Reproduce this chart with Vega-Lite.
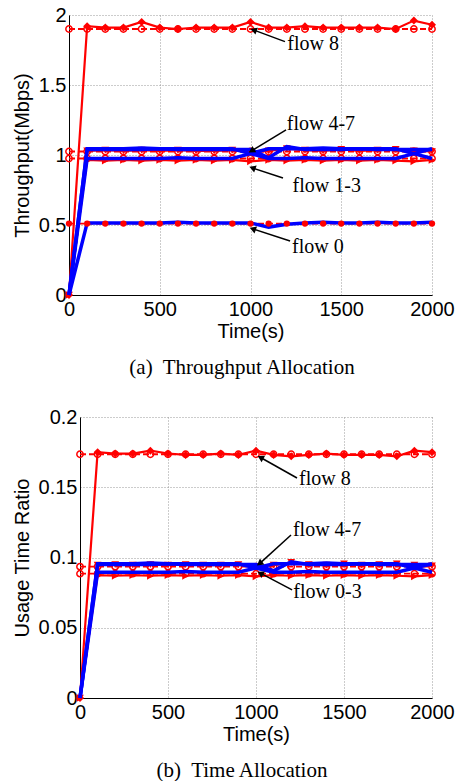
{
"$schema": "https://vega.github.io/schema/vega-lite/v6.json",
"padding": {"left": 12, "top": 5, "right": 0, "bottom": 0},
"spacing": 29,
"config": {
  "view": {"stroke": null},
  "font": "Liberation Sans",
  "axis": {"labelFont": "Liberation Sans", "titleFont": "Liberation Sans", "labelFontSize": 20, "titleFontSize": 20, "titleFontWeight": "normal", "labelColor": "#000", "titleColor": "#000", "domainColor": "#000", "domainWidth": 1, "ticks": false, "tickSize": 0, "gridColor": "#999", "gridDash": [1, 2], "gridOpacity": 1, "gridWidth": 1, "labelFlush": false, "labelOverlap": false},
  "axisX": {"labelPadding": 4, "titlePadding": 2},
  "axisY": {"labelPadding": 3, "titlePadding": 6},
  "title": {"orient": "bottom", "offset": 16, "font": "Liberation Serif", "fontSize": 21, "fontWeight": "normal", "color": "#000", "anchor": "middle", "frame": "group"}
},
"datasets": {
"a": [
{"s":"S8","t":0,"v":0},{"s":"S8","t":100,"v":1.92},{"s":"S8","t":200,"v":1.91},{"s":"S8","t":300,"v":1.91},{"s":"S8","t":400,"v":1.95},{"s":"S8","t":500,"v":1.91},{"s":"S8","t":600,"v":1.9},{"s":"S8","t":700,"v":1.91},{"s":"S8","t":800,"v":1.91},{"s":"S8","t":900,"v":1.91},{"s":"S8","t":1000,"v":1.95},{"s":"S8","t":1100,"v":1.91},{"s":"S8","t":1200,"v":1.91},{"s":"S8","t":1300,"v":1.92},{"s":"S8","t":1400,"v":1.91},{"s":"S8","t":1500,"v":1.91},{"s":"S8","t":1600,"v":1.91},{"s":"S8","t":1700,"v":1.91},{"s":"S8","t":1800,"v":1.9},{"s":"S8","t":1900,"v":1.96},{"s":"S8","t":2000,"v":1.93},
{"s":"T8","t":0,"v":1.9},{"s":"T8","t":100,"v":1.9},{"s":"T8","t":200,"v":1.9},{"s":"T8","t":300,"v":1.9},{"s":"T8","t":400,"v":1.9},{"s":"T8","t":500,"v":1.9},{"s":"T8","t":600,"v":1.9},{"s":"T8","t":700,"v":1.9},{"s":"T8","t":800,"v":1.9},{"s":"T8","t":900,"v":1.9},{"s":"T8","t":1000,"v":1.9},{"s":"T8","t":1100,"v":1.9},{"s":"T8","t":1200,"v":1.9},{"s":"T8","t":1300,"v":1.9},{"s":"T8","t":1400,"v":1.9},{"s":"T8","t":1500,"v":1.9},{"s":"T8","t":1600,"v":1.9},{"s":"T8","t":1700,"v":1.9},{"s":"T8","t":1800,"v":1.9},{"s":"T8","t":1900,"v":1.9},{"s":"T8","t":2000,"v":1.9},
{"s":"R47","t":0,"v":0},{"s":"R47","t":100,"v":1.03},{"s":"R47","t":200,"v":1.035},{"s":"R47","t":300,"v":1.03},{"s":"R47","t":400,"v":1.035},{"s":"R47","t":500,"v":1.03},{"s":"R47","t":600,"v":1.035},{"s":"R47","t":700,"v":1.03},{"s":"R47","t":800,"v":1.03},{"s":"R47","t":900,"v":1.035},{"s":"R47","t":1000,"v":1.02},{"s":"R47","t":1100,"v":1.03},{"s":"R47","t":1200,"v":1.045},{"s":"R47","t":1300,"v":1.035},{"s":"R47","t":1400,"v":1.03},{"s":"R47","t":1500,"v":1.04},{"s":"R47","t":1600,"v":1.03},{"s":"R47","t":1700,"v":1.035},{"s":"R47","t":1800,"v":1.04},{"s":"R47","t":1900,"v":1.03},{"s":"R47","t":2000,"v":1.025},
{"s":"R13","t":0,"v":0},{"s":"R13","t":100,"v":0.965},{"s":"R13","t":200,"v":0.96},{"s":"R13","t":300,"v":0.965},{"s":"R13","t":400,"v":0.96},{"s":"R13","t":500,"v":0.965},{"s":"R13","t":600,"v":0.96},{"s":"R13","t":700,"v":0.965},{"s":"R13","t":800,"v":0.96},{"s":"R13","t":900,"v":0.965},{"s":"R13","t":1000,"v":0.955},{"s":"R13","t":1100,"v":0.965},{"s":"R13","t":1200,"v":0.96},{"s":"R13","t":1300,"v":0.965},{"s":"R13","t":1400,"v":0.96},{"s":"R13","t":1500,"v":0.965},{"s":"R13","t":1600,"v":0.96},{"s":"R13","t":1700,"v":0.965},{"s":"R13","t":1800,"v":0.96},{"s":"R13","t":1900,"v":0.955},{"s":"R13","t":2000,"v":0.965},
{"s":"T47","t":0,"v":1.025},{"s":"T47","t":100,"v":1.025},{"s":"T47","t":200,"v":1.025},{"s":"T47","t":300,"v":1.025},{"s":"T47","t":400,"v":1.025},{"s":"T47","t":500,"v":1.025},{"s":"T47","t":600,"v":1.025},{"s":"T47","t":700,"v":1.025},{"s":"T47","t":800,"v":1.025},{"s":"T47","t":900,"v":1.025},{"s":"T47","t":1000,"v":1.025},{"s":"T47","t":1100,"v":1.025},{"s":"T47","t":1200,"v":1.025},{"s":"T47","t":1300,"v":1.025},{"s":"T47","t":1400,"v":1.025},{"s":"T47","t":1500,"v":1.025},{"s":"T47","t":1600,"v":1.025},{"s":"T47","t":1700,"v":1.025},{"s":"T47","t":1800,"v":1.025},{"s":"T47","t":1900,"v":1.025},{"s":"T47","t":2000,"v":1.025},
{"s":"T13","t":0,"v":0.975},{"s":"T13","t":100,"v":0.975},{"s":"T13","t":200,"v":0.975},{"s":"T13","t":300,"v":0.975},{"s":"T13","t":400,"v":0.975},{"s":"T13","t":500,"v":0.975},{"s":"T13","t":600,"v":0.975},{"s":"T13","t":700,"v":0.975},{"s":"T13","t":800,"v":0.975},{"s":"T13","t":900,"v":0.975},{"s":"T13","t":1000,"v":0.975},{"s":"T13","t":1100,"v":0.975},{"s":"T13","t":1200,"v":0.975},{"s":"T13","t":1300,"v":0.975},{"s":"T13","t":1400,"v":0.975},{"s":"T13","t":1500,"v":0.975},{"s":"T13","t":1600,"v":0.975},{"s":"T13","t":1700,"v":0.975},{"s":"T13","t":1800,"v":0.975},{"s":"T13","t":1900,"v":0.975},{"s":"T13","t":2000,"v":0.975},
{"s":"B1","t":0,"v":0},{"s":"B1","t":100,"v":1.045},{"s":"B1","t":200,"v":1.045},{"s":"B1","t":300,"v":1.045},{"s":"B1","t":400,"v":1.05},{"s":"B1","t":500,"v":1.045},{"s":"B1","t":600,"v":1.045},{"s":"B1","t":700,"v":1.045},{"s":"B1","t":800,"v":1.045},{"s":"B1","t":900,"v":1.045},{"s":"B1","t":1000,"v":1.01},{"s":"B1","t":1100,"v":0.975},{"s":"B1","t":1200,"v":0.975},{"s":"B1","t":1300,"v":0.98},{"s":"B1","t":1400,"v":0.975},{"s":"B1","t":1500,"v":0.975},{"s":"B1","t":1600,"v":0.975},{"s":"B1","t":1700,"v":0.975},{"s":"B1","t":1800,"v":0.975},{"s":"B1","t":1900,"v":1.01},{"s":"B1","t":2000,"v":1.045},
{"s":"B2","t":0,"v":0},{"s":"B2","t":100,"v":0.975},{"s":"B2","t":200,"v":0.975},{"s":"B2","t":300,"v":0.975},{"s":"B2","t":400,"v":0.975},{"s":"B2","t":500,"v":0.975},{"s":"B2","t":600,"v":0.98},{"s":"B2","t":700,"v":0.975},{"s":"B2","t":800,"v":0.975},{"s":"B2","t":900,"v":0.975},{"s":"B2","t":1000,"v":1.01},{"s":"B2","t":1100,"v":1.045},{"s":"B2","t":1200,"v":1.045},{"s":"B2","t":1300,"v":1.045},{"s":"B2","t":1400,"v":1.05},{"s":"B2","t":1500,"v":1.045},{"s":"B2","t":1600,"v":1.045},{"s":"B2","t":1700,"v":1.045},{"s":"B2","t":1800,"v":1.045},{"s":"B2","t":1900,"v":1.01},{"s":"B2","t":2000,"v":0.975},
{"s":"B3","t":0,"v":0},{"s":"B3","t":100,"v":1.04},{"s":"B3","t":200,"v":1.04},{"s":"B3","t":300,"v":1.04},{"s":"B3","t":400,"v":1.04},{"s":"B3","t":500,"v":1.045},{"s":"B3","t":600,"v":1.04},{"s":"B3","t":700,"v":1.04},{"s":"B3","t":800,"v":1.04},{"s":"B3","t":900,"v":1.04},{"s":"B3","t":1000,"v":1.04},{"s":"B3","t":1100,"v":0.98},{"s":"B3","t":1200,"v":1.06},{"s":"B3","t":1300,"v":1.04},{"s":"B3","t":1400,"v":1.04},{"s":"B3","t":1500,"v":1.04},{"s":"B3","t":1600,"v":1.045},{"s":"B3","t":1700,"v":1.04},{"s":"B3","t":1800,"v":1.04},{"s":"B3","t":1900,"v":1.04},{"s":"B3","t":2000,"v":1.04},
{"s":"B0","t":0,"v":0},{"s":"B0","t":100,"v":0.515},{"s":"B0","t":200,"v":0.515},{"s":"B0","t":300,"v":0.515},{"s":"B0","t":400,"v":0.515},{"s":"B0","t":500,"v":0.515},{"s":"B0","t":600,"v":0.52},{"s":"B0","t":700,"v":0.515},{"s":"B0","t":800,"v":0.515},{"s":"B0","t":900,"v":0.515},{"s":"B0","t":1000,"v":0.515},{"s":"B0","t":1100,"v":0.485},{"s":"B0","t":1200,"v":0.505},{"s":"B0","t":1300,"v":0.515},{"s":"B0","t":1400,"v":0.52},{"s":"B0","t":1500,"v":0.515},{"s":"B0","t":1600,"v":0.515},{"s":"B0","t":1700,"v":0.52},{"s":"B0","t":1800,"v":0.515},{"s":"B0","t":1900,"v":0.515},{"s":"B0","t":2000,"v":0.52},
{"s":"T0","t":0,"v":0.51},{"s":"T0","t":100,"v":0.51},{"s":"T0","t":200,"v":0.51},{"s":"T0","t":300,"v":0.51},{"s":"T0","t":400,"v":0.51},{"s":"T0","t":500,"v":0.51},{"s":"T0","t":600,"v":0.51},{"s":"T0","t":700,"v":0.51},{"s":"T0","t":800,"v":0.51},{"s":"T0","t":900,"v":0.51},{"s":"T0","t":1000,"v":0.51},{"s":"T0","t":1100,"v":0.51},{"s":"T0","t":1200,"v":0.51},{"s":"T0","t":1300,"v":0.51},{"s":"T0","t":1400,"v":0.51},{"s":"T0","t":1500,"v":0.51},{"s":"T0","t":1600,"v":0.51},{"s":"T0","t":1700,"v":0.51},{"s":"T0","t":1800,"v":0.51},{"s":"T0","t":1900,"v":0.51},{"s":"T0","t":2000,"v":0.51}
],
"b": [
{"s":"S8","t":0,"v":0},{"s":"S8","t":100,"v":0.175},{"s":"S8","t":200,"v":0.174},{"s":"S8","t":300,"v":0.174},{"s":"S8","t":400,"v":0.176},{"s":"S8","t":500,"v":0.174},{"s":"S8","t":600,"v":0.173},{"s":"S8","t":700,"v":0.173},{"s":"S8","t":800,"v":0.174},{"s":"S8","t":900,"v":0.173},{"s":"S8","t":1000,"v":0.176},{"s":"S8","t":1100,"v":0.173},{"s":"S8","t":1200,"v":0.172},{"s":"S8","t":1300,"v":0.173},{"s":"S8","t":1400,"v":0.174},{"s":"S8","t":1500,"v":0.173},{"s":"S8","t":1600,"v":0.173},{"s":"S8","t":1700,"v":0.173},{"s":"S8","t":1800,"v":0.172},{"s":"S8","t":1900,"v":0.176},{"s":"S8","t":2000,"v":0.175},
{"s":"T8","t":0,"v":0.1735},{"s":"T8","t":100,"v":0.1735},{"s":"T8","t":200,"v":0.1735},{"s":"T8","t":300,"v":0.1735},{"s":"T8","t":400,"v":0.1735},{"s":"T8","t":500,"v":0.1735},{"s":"T8","t":600,"v":0.1735},{"s":"T8","t":700,"v":0.1735},{"s":"T8","t":800,"v":0.1735},{"s":"T8","t":900,"v":0.1735},{"s":"T8","t":1000,"v":0.1735},{"s":"T8","t":1100,"v":0.1735},{"s":"T8","t":1200,"v":0.1735},{"s":"T8","t":1300,"v":0.1735},{"s":"T8","t":1400,"v":0.1735},{"s":"T8","t":1500,"v":0.1735},{"s":"T8","t":1600,"v":0.1735},{"s":"T8","t":1700,"v":0.1735},{"s":"T8","t":1800,"v":0.1735},{"s":"T8","t":1900,"v":0.1735},{"s":"T8","t":2000,"v":0.1735},
{"s":"R47","t":0,"v":0},{"s":"R47","t":100,"v":0.0945},{"s":"R47","t":200,"v":0.095},{"s":"R47","t":300,"v":0.0945},{"s":"R47","t":400,"v":0.095},{"s":"R47","t":500,"v":0.0945},{"s":"R47","t":600,"v":0.095},{"s":"R47","t":700,"v":0.0945},{"s":"R47","t":800,"v":0.0945},{"s":"R47","t":900,"v":0.095},{"s":"R47","t":1000,"v":0.0935},{"s":"R47","t":1100,"v":0.0945},{"s":"R47","t":1200,"v":0.0965},{"s":"R47","t":1300,"v":0.095},{"s":"R47","t":1400,"v":0.0945},{"s":"R47","t":1500,"v":0.0955},{"s":"R47","t":1600,"v":0.0945},{"s":"R47","t":1700,"v":0.095},{"s":"R47","t":1800,"v":0.0955},{"s":"R47","t":1900,"v":0.0945},{"s":"R47","t":2000,"v":0.094},
{"s":"R03","t":0,"v":0},{"s":"R03","t":100,"v":0.0875},{"s":"R03","t":200,"v":0.087},{"s":"R03","t":300,"v":0.0875},{"s":"R03","t":400,"v":0.087},{"s":"R03","t":500,"v":0.0875},{"s":"R03","t":600,"v":0.087},{"s":"R03","t":700,"v":0.0875},{"s":"R03","t":800,"v":0.087},{"s":"R03","t":900,"v":0.0875},{"s":"R03","t":1000,"v":0.0865},{"s":"R03","t":1100,"v":0.0875},{"s":"R03","t":1200,"v":0.087},{"s":"R03","t":1300,"v":0.0875},{"s":"R03","t":1400,"v":0.087},{"s":"R03","t":1500,"v":0.0875},{"s":"R03","t":1600,"v":0.087},{"s":"R03","t":1700,"v":0.0875},{"s":"R03","t":1800,"v":0.087},{"s":"R03","t":1900,"v":0.0865},{"s":"R03","t":2000,"v":0.0875},
{"s":"T47","t":0,"v":0.0935},{"s":"T47","t":100,"v":0.0935},{"s":"T47","t":200,"v":0.0935},{"s":"T47","t":300,"v":0.0935},{"s":"T47","t":400,"v":0.0935},{"s":"T47","t":500,"v":0.0935},{"s":"T47","t":600,"v":0.0935},{"s":"T47","t":700,"v":0.0935},{"s":"T47","t":800,"v":0.0935},{"s":"T47","t":900,"v":0.0935},{"s":"T47","t":1000,"v":0.0935},{"s":"T47","t":1100,"v":0.0935},{"s":"T47","t":1200,"v":0.0935},{"s":"T47","t":1300,"v":0.0935},{"s":"T47","t":1400,"v":0.0935},{"s":"T47","t":1500,"v":0.0935},{"s":"T47","t":1600,"v":0.0935},{"s":"T47","t":1700,"v":0.0935},{"s":"T47","t":1800,"v":0.0935},{"s":"T47","t":1900,"v":0.0935},{"s":"T47","t":2000,"v":0.0935},
{"s":"T03","t":0,"v":0.0885},{"s":"T03","t":100,"v":0.0885},{"s":"T03","t":200,"v":0.0885},{"s":"T03","t":300,"v":0.0885},{"s":"T03","t":400,"v":0.0885},{"s":"T03","t":500,"v":0.0885},{"s":"T03","t":600,"v":0.0885},{"s":"T03","t":700,"v":0.0885},{"s":"T03","t":800,"v":0.0885},{"s":"T03","t":900,"v":0.0885},{"s":"T03","t":1000,"v":0.0885},{"s":"T03","t":1100,"v":0.0885},{"s":"T03","t":1200,"v":0.0885},{"s":"T03","t":1300,"v":0.0885},{"s":"T03","t":1400,"v":0.0885},{"s":"T03","t":1500,"v":0.0885},{"s":"T03","t":1600,"v":0.0885},{"s":"T03","t":1700,"v":0.0885},{"s":"T03","t":1800,"v":0.0885},{"s":"T03","t":1900,"v":0.0885},{"s":"T03","t":2000,"v":0.0885},
{"s":"B1","t":0,"v":0},{"s":"B1","t":100,"v":0.0955},{"s":"B1","t":200,"v":0.0955},{"s":"B1","t":300,"v":0.0955},{"s":"B1","t":400,"v":0.096},{"s":"B1","t":500,"v":0.0955},{"s":"B1","t":600,"v":0.0955},{"s":"B1","t":700,"v":0.0955},{"s":"B1","t":800,"v":0.0955},{"s":"B1","t":900,"v":0.0955},{"s":"B1","t":1000,"v":0.0925},{"s":"B1","t":1100,"v":0.0895},{"s":"B1","t":1200,"v":0.0895},{"s":"B1","t":1300,"v":0.09},{"s":"B1","t":1400,"v":0.0895},{"s":"B1","t":1500,"v":0.0895},{"s":"B1","t":1600,"v":0.0895},{"s":"B1","t":1700,"v":0.0895},{"s":"B1","t":1800,"v":0.0895},{"s":"B1","t":1900,"v":0.0925},{"s":"B1","t":2000,"v":0.0955},
{"s":"B2","t":0,"v":0},{"s":"B2","t":100,"v":0.0895},{"s":"B2","t":200,"v":0.0895},{"s":"B2","t":300,"v":0.0895},{"s":"B2","t":400,"v":0.0895},{"s":"B2","t":500,"v":0.0895},{"s":"B2","t":600,"v":0.09},{"s":"B2","t":700,"v":0.0895},{"s":"B2","t":800,"v":0.0895},{"s":"B2","t":900,"v":0.0895},{"s":"B2","t":1000,"v":0.0925},{"s":"B2","t":1100,"v":0.0955},{"s":"B2","t":1200,"v":0.0955},{"s":"B2","t":1300,"v":0.0955},{"s":"B2","t":1400,"v":0.096},{"s":"B2","t":1500,"v":0.0955},{"s":"B2","t":1600,"v":0.0955},{"s":"B2","t":1700,"v":0.0955},{"s":"B2","t":1800,"v":0.0955},{"s":"B2","t":1900,"v":0.0925},{"s":"B2","t":2000,"v":0.0895},
{"s":"B3","t":0,"v":0},{"s":"B3","t":100,"v":0.095},{"s":"B3","t":200,"v":0.095},{"s":"B3","t":300,"v":0.095},{"s":"B3","t":400,"v":0.095},{"s":"B3","t":500,"v":0.0955},{"s":"B3","t":600,"v":0.095},{"s":"B3","t":700,"v":0.095},{"s":"B3","t":800,"v":0.095},{"s":"B3","t":900,"v":0.095},{"s":"B3","t":1000,"v":0.095},{"s":"B3","t":1100,"v":0.0905},{"s":"B3","t":1200,"v":0.097},{"s":"B3","t":1300,"v":0.095},{"s":"B3","t":1400,"v":0.095},{"s":"B3","t":1500,"v":0.095},{"s":"B3","t":1600,"v":0.0955},{"s":"B3","t":1700,"v":0.095},{"s":"B3","t":1800,"v":0.095},{"s":"B3","t":1900,"v":0.095},{"s":"B3","t":2000,"v":0.095}
],
"annA": [
{"label":"flow 8","tx":1190,"ty":1.81,"hx":1023,"hy":1.89,"lx":1203,"ly":1.79},
{"label":"flow 4-7","tx":1196,"ty":1.18,"hx":1011,"hy":1.034,"lx":1200,"ly":1.22},
{"label":"flow 1-3","tx":1179,"ty":0.836,"hx":1016,"hy":0.905,"lx":1232,"ly":0.78},
{"label":"flow 0","tx":1218,"ty":0.386,"hx":1018,"hy":0.47,"lx":1229,"ly":0.343}
],
"annB": [
{"label":"flow 8","tx":1233,"ty":0.1566,"hx":1031,"hy":0.1708,"lx":1245,"ly":0.156},
{"label":"flow 4-7","tx":1199,"ty":0.116,"hx":1025,"hy":0.0962,"lx":1210,"ly":0.1196},
{"label":"flow 0-3","tx":1205,"ty":0.0769,"hx":1030,"hy":0.0885,"lx":1212,"ly":0.0754}
]
},
"vconcat": [
{
  "width": 352, "height": 280,
  "title": {"text": "(a)\u00a0 Throughput Allocation", "dx": -14},
  "encoding": {
    "x": {"field": "t", "type": "quantitative", "scale": {"domain": [0, 2000], "nice": false, "range": [-11, 352]}, "axis": {"title": "Time(s)", "values": [0, 500, 1000, 1500, 2000], "format": "d", "grid": true}},
    "y": {"field": "v", "type": "quantitative", "scale": {"domain": [0, 2], "nice": false}, "axis": {"title": "Throughput(Mbps)", "values": [0, 0.5, 1, 1.5, 2], "format": "~g", "grid": true, "offset": 11}}
  },
  "layer": [
    {"data": {"name": "a"}, "transform": [{"filter": {"field": "s", "oneOf": ["T8", "T47", "T13", "T0"]}}], "mark": {"type": "line", "color": "#ff0000", "strokeWidth": 1.8, "strokeDash": [6, 3]}, "encoding": {"detail": {"field": "s"}}},
    {"data": {"name": "a"}, "transform": [{"filter": {"field": "s", "oneOf": ["S8", "R47", "R13"]}}], "mark": {"type": "line", "color": "#ff0000", "strokeWidth": 2.2}, "encoding": {"detail": {"field": "s"}}},
    {"data": {"name": "a"}, "transform": [{"filter": {"field": "s", "oneOf": ["T8", "T47", "T13"]}}], "mark": {"type": "point", "shape": "circle", "filled": false, "color": "#ff0000", "strokeWidth": 1.5, "size": 40, "opacity": 1}},
    {"data": {"name": "a"}, "transform": [{"filter": {"field": "s", "equal": "S8"}}], "mark": {"type": "point", "shape": "diamond", "filled": true, "color": "#ff0000", "size": 64, "opacity": 1}},
    {"data": {"name": "a"}, "transform": [{"filter": {"field": "s", "equal": "R47"}}], "mark": {"type": "point", "shape": "triangle-down", "filled": true, "color": "#ff0000", "size": 60, "opacity": 1}},
    {"data": {"name": "a"}, "transform": [{"filter": {"field": "s", "equal": "R13"}}], "mark": {"type": "point", "shape": "triangle-right", "filled": true, "color": "#ff0000", "size": 60, "opacity": 1}},
    {"data": {"name": "a"}, "transform": [{"filter": {"field": "s", "oneOf": ["B1", "B2", "B3", "B0"]}}], "mark": {"type": "line", "color": "#0000ff", "strokeWidth": 3.5}, "encoding": {"detail": {"field": "s"}}},
    {"data": {"name": "a"}, "transform": [{"filter": {"field": "s", "equal": "T0"}}], "mark": {"type": "point", "shape": "circle", "filled": true, "color": "#ff0000", "size": 40, "opacity": 1}},
    {"data": {"name": "annA"}, "mark": {"type": "rule", "color": "#000", "strokeWidth": 1.5}, "encoding": {"x": {"field": "tx", "type": "quantitative"}, "y": {"field": "ty", "type": "quantitative"}, "x2": {"field": "hx"}, "y2": {"field": "hy"}}},
    {"data": {"name": "annA"}, "transform": [{"filter": {"field": "label", "equal": "flow 4-7"}}], "mark": {"type": "point", "shape": "triangle", "filled": true, "color": "#000", "size": 55, "opacity": 1, "angle": 239}, "encoding": {"x": {"field": "hx", "type": "quantitative"}, "y": {"field": "hy", "type": "quantitative"}}},
    {"data": {"name": "annA"}, "transform": [{"filter": {"not": {"field": "label", "equal": "flow 4-7"}}}], "mark": {"type": "point", "shape": "triangle", "filled": true, "color": "#000", "size": 55, "opacity": 1, "angle": 290}, "encoding": {"x": {"field": "hx", "type": "quantitative"}, "y": {"field": "hy", "type": "quantitative"}}},
    {"data": {"name": "annA"}, "mark": {"type": "text", "font": "Liberation Serif", "fontSize": 20, "align": "left", "baseline": "middle", "color": "#000"}, "encoding": {"x": {"field": "lx", "type": "quantitative"}, "y": {"field": "ly", "type": "quantitative"}, "text": {"field": "label"}}}
  ]
},
{
  "width": 352, "height": 281,
  "title": {"text": "(b)\u00a0 Time Allocation", "dx": -14},
  "encoding": {
    "x": {"field": "t", "type": "quantitative", "scale": {"domain": [0, 2000], "nice": false}, "axis": {"title": "Time(s)", "values": [0, 500, 1000, 1500, 2000], "format": "d", "grid": true}},
    "y": {"field": "v", "type": "quantitative", "scale": {"domain": [0, 0.2], "nice": false}, "axis": {"title": "Usage Time Ratio", "values": [0, 0.05, 0.1, 0.15, 0.2], "format": "~g", "grid": true}}
  },
  "layer": [
    {"data": {"name": "b"}, "transform": [{"filter": {"field": "s", "oneOf": ["T8", "T47", "T03"]}}], "mark": {"type": "line", "color": "#ff0000", "strokeWidth": 1.8, "strokeDash": [6, 3]}, "encoding": {"detail": {"field": "s"}}},
    {"data": {"name": "b"}, "transform": [{"filter": {"field": "s", "oneOf": ["S8", "R47", "R03"]}}], "mark": {"type": "line", "color": "#ff0000", "strokeWidth": 2.2}, "encoding": {"detail": {"field": "s"}}},
    {"data": {"name": "b"}, "transform": [{"filter": {"field": "s", "oneOf": ["T8", "T47", "T03"]}}], "mark": {"type": "point", "shape": "circle", "filled": false, "color": "#ff0000", "strokeWidth": 1.5, "size": 40, "opacity": 1}},
    {"data": {"name": "b"}, "transform": [{"filter": {"field": "s", "equal": "S8"}}], "mark": {"type": "point", "shape": "diamond", "filled": true, "color": "#ff0000", "size": 64, "opacity": 1}},
    {"data": {"name": "b"}, "transform": [{"filter": {"field": "s", "equal": "R47"}}], "mark": {"type": "point", "shape": "triangle-down", "filled": true, "color": "#ff0000", "size": 60, "opacity": 1}},
    {"data": {"name": "b"}, "transform": [{"filter": {"field": "s", "equal": "R03"}}], "mark": {"type": "point", "shape": "triangle-right", "filled": true, "color": "#ff0000", "size": 60, "opacity": 1}},
    {"data": {"name": "b"}, "transform": [{"filter": {"field": "s", "oneOf": ["B1", "B2", "B3"]}}], "mark": {"type": "line", "color": "#0000ff", "strokeWidth": 3.5}, "encoding": {"detail": {"field": "s"}}},
    {"data": {"name": "annB"}, "mark": {"type": "rule", "color": "#000", "strokeWidth": 1.5}, "encoding": {"x": {"field": "tx", "type": "quantitative"}, "y": {"field": "ty", "type": "quantitative"}, "x2": {"field": "hx"}, "y2": {"field": "hy"}}},
    {"data": {"name": "annB"}, "transform": [{"filter": {"field": "label", "equal": "flow 4-7"}}], "mark": {"type": "point", "shape": "triangle", "filled": true, "color": "#000", "size": 55, "opacity": 1, "angle": 233}, "encoding": {"x": {"field": "hx", "type": "quantitative"}, "y": {"field": "hy", "type": "quantitative"}}},
    {"data": {"name": "annB"}, "transform": [{"filter": {"not": {"field": "label", "equal": "flow 4-7"}}}], "mark": {"type": "point", "shape": "triangle", "filled": true, "color": "#000", "size": 55, "opacity": 1, "angle": 298}, "encoding": {"x": {"field": "hx", "type": "quantitative"}, "y": {"field": "hy", "type": "quantitative"}}},
    {"data": {"name": "annB"}, "mark": {"type": "text", "font": "Liberation Serif", "fontSize": 20, "align": "left", "baseline": "middle", "color": "#000"}, "encoding": {"x": {"field": "lx", "type": "quantitative"}, "y": {"field": "ly", "type": "quantitative"}, "text": {"field": "label"}}}
  ]
}
]
}
